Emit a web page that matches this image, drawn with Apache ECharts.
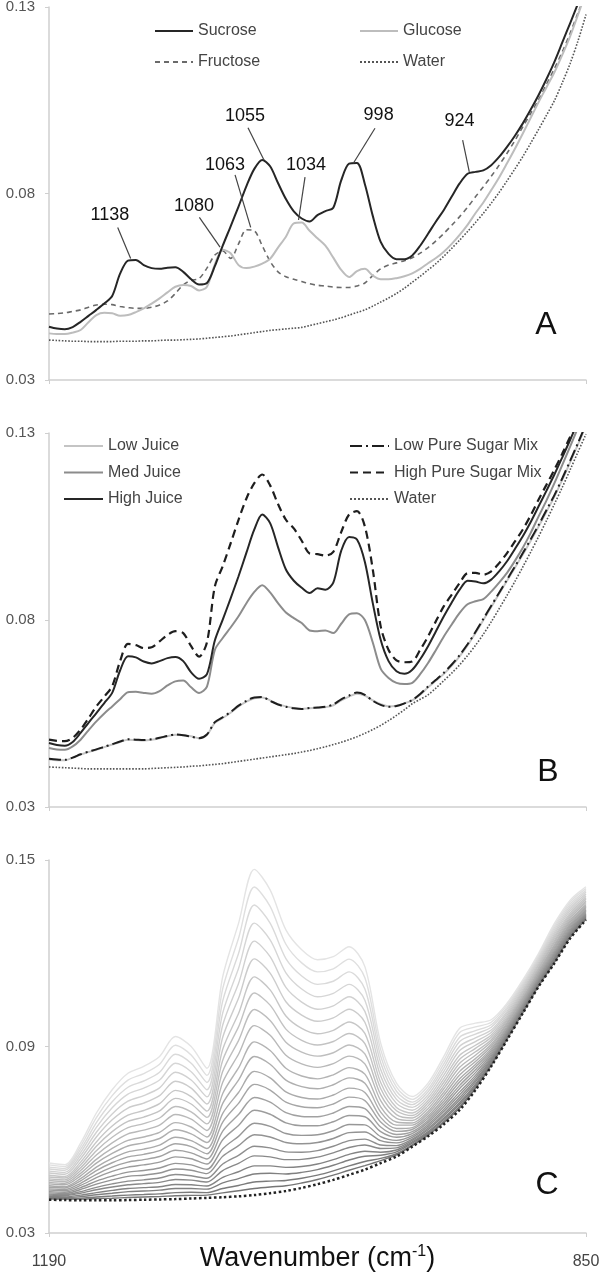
<!DOCTYPE html>
<html><head><meta charset="utf-8">
<script src="https://cdn.jsdelivr.net/npm/echarts@6/dist/echarts.min.js"></script>
<style>html,body{margin:0;padding:0;background:#fff}#c{width:600px;height:1274px}</style>
</head><body><div id="c"></div>
<script>
// ---------- DATA ----------
const wavenumbersAB = [1190,1185,1180,1175,1170,1165,1160,1155,1150,1145,1140,1135,1130,1125,1120,1115,1110,1105,1100,1095,1090,1085,1080,1075,1070,1065,1060,1055,1050,1045,1040,1035,1030,1025,1020,1015,1010,1005,1000,995,990,985,980,975,970,965,960,955,950,945,940,935,930,925,920,915,910,905,900,895,890,885,880,875,870,865,860,855,850];
const wavenumbersC = [1190,1180,1170,1160,1150,1140,1130,1120,1110,1100,1090,1080,1070,1060,1050,1040,1030,1020,1010,1000,990,980,970,960,950,940,930,920,910,900,890,880,870,860,850];
const xTickLabels = [1190, 850];
const yTicksAB = [0.03, 0.08, 0.13];
const yTicksC = [0.03, 0.09, 0.15];

// Panel A
const sucroseA = [0.0443,0.0438,0.0436,0.0442,0.0456,0.0472,0.0488,0.0505,0.0525,0.0585,0.0620,0.0622,0.0608,0.0600,0.0598,0.0601,0.0602,0.0590,0.0570,0.0556,0.0560,0.0605,0.0660,0.0712,0.0765,0.0820,0.0866,0.0890,0.0873,0.0828,0.0785,0.0752,0.0733,0.0725,0.0742,0.0753,0.0762,0.0835,0.0880,0.0882,0.0825,0.0740,0.0670,0.0638,0.0624,0.0624,0.0634,0.0660,0.0692,0.0725,0.0756,0.0792,0.0827,0.0853,0.0858,0.0862,0.0876,0.0898,0.0925,0.0955,0.0988,0.1025,0.1064,0.1107,0.1153,0.1205,0.1257,0.1310,0.1365];
const glucoseA = [0.0425,0.0423,0.0423,0.0427,0.0434,0.0455,0.0474,0.0480,0.0479,0.0472,0.0474,0.0482,0.0492,0.0505,0.0519,0.0535,0.0550,0.0555,0.0552,0.0540,0.0550,0.0610,0.0649,0.0640,0.0608,0.0600,0.0604,0.0612,0.0625,0.0655,0.0684,0.0720,0.0722,0.0700,0.0680,0.0660,0.0628,0.0595,0.0576,0.0592,0.0598,0.0580,0.0570,0.0570,0.0573,0.0578,0.0586,0.0598,0.0613,0.0627,0.0644,0.0665,0.0689,0.0716,0.0747,0.0776,0.0809,0.0843,0.0881,0.0920,0.0961,0.1003,0.1045,0.1085,0.1125,0.1172,0.1222,0.1280,0.1340];
const fructoseA = [0.0477,0.0478,0.0480,0.0484,0.0488,0.0495,0.0501,0.0503,0.0502,0.0497,0.0494,0.0492,0.0492,0.0495,0.0501,0.0512,0.0532,0.0555,0.0567,0.0572,0.0600,0.0635,0.0646,0.0626,0.0665,0.0703,0.0700,0.0660,0.0618,0.0590,0.0577,0.0570,0.0564,0.0558,0.0554,0.0552,0.0549,0.0548,0.0548,0.0552,0.0560,0.0580,0.0598,0.0608,0.0614,0.0620,0.0628,0.0640,0.0655,0.0673,0.0693,0.0715,0.0738,0.0763,0.0791,0.0818,0.0846,0.0876,0.0908,0.0942,0.0979,0.1015,0.1052,0.1093,0.1135,0.1180,0.1230,0.1285,0.1340];
const waterA = [0.0407,0.0406,0.0405,0.0404,0.0404,0.0403,0.0403,0.0403,0.0403,0.0404,0.0404,0.0404,0.0405,0.0405,0.0406,0.0407,0.0407,0.0408,0.0409,0.0410,0.0412,0.0414,0.0416,0.0418,0.0421,0.0424,0.0427,0.0430,0.0433,0.0435,0.0437,0.0439,0.0441,0.0446,0.0451,0.0456,0.0461,0.0467,0.0474,0.0481,0.0488,0.0498,0.0509,0.0520,0.0532,0.0546,0.0562,0.0578,0.0595,0.0612,0.0632,0.0653,0.0675,0.0698,0.0722,0.0747,0.0774,0.0803,0.0834,0.0866,0.0899,0.0935,0.0972,0.1010,0.1049,0.1097,0.1149,0.1210,0.1280];

// Peak annotations (panel A)
const peakLabels = ['1138','1080','1063','1055','1034','998','924'];
const peakWavenumbers = [1138.3,1081.7,1062.3,1053.9,1032.0,997.3,923.9];
const peakValues = [0.0626,0.0656,0.0709,0.0890,0.0729,0.0881,0.0858];

// Panel B
const lowJuiceB = [0.0427,0.0425,0.0425,0.0432,0.0440,0.0447,0.0453,0.0460,0.0467,0.0474,0.0480,0.0479,0.0478,0.0480,0.0484,0.0489,0.0493,0.0492,0.0489,0.0484,0.0493,0.0525,0.0538,0.0552,0.0569,0.0582,0.0591,0.0593,0.0585,0.0575,0.0569,0.0565,0.0562,0.0564,0.0565,0.0567,0.0572,0.0585,0.0595,0.0603,0.0598,0.0585,0.0575,0.0569,0.0571,0.0577,0.0585,0.0600,0.0620,0.0638,0.0656,0.0678,0.0703,0.0732,0.0765,0.0800,0.0835,0.0870,0.0905,0.0940,0.0975,0.1012,0.1050,0.1090,0.1130,0.1175,0.1222,0.1270,0.1320];
const medJuiceB = [0.0458,0.0454,0.0453,0.0462,0.0480,0.0505,0.0529,0.0550,0.0569,0.0588,0.0607,0.0608,0.0605,0.0603,0.0610,0.0625,0.0636,0.0638,0.0620,0.0605,0.0622,0.0720,0.0752,0.0780,0.0810,0.0845,0.0875,0.0893,0.0874,0.0845,0.0820,0.0805,0.0792,0.0772,0.0770,0.0772,0.0765,0.0790,0.0815,0.0818,0.0800,0.0740,0.0670,0.0645,0.0632,0.0629,0.0632,0.0655,0.0685,0.0720,0.0756,0.0788,0.0819,0.0842,0.0850,0.0856,0.0876,0.0900,0.0926,0.0958,0.0993,0.1033,0.1077,0.1120,0.1166,0.1215,0.1264,0.1315,0.1365];
const highJuiceB = [0.0471,0.0466,0.0464,0.0474,0.0498,0.0525,0.0551,0.0578,0.0605,0.0665,0.0703,0.0700,0.0689,0.0684,0.0690,0.0698,0.0701,0.0690,0.0660,0.0643,0.0655,0.0745,0.0801,0.0858,0.0917,0.0980,0.1042,0.1082,0.1059,0.0995,0.0935,0.0905,0.0886,0.0872,0.0885,0.0881,0.0900,0.0985,0.1022,0.1015,0.0955,0.0845,0.0747,0.0690,0.0663,0.0656,0.0667,0.0695,0.0730,0.0770,0.0810,0.0847,0.0881,0.0905,0.0903,0.0898,0.0908,0.0930,0.0957,0.0990,0.1024,0.1062,0.1104,0.1146,0.1189,0.1235,0.1282,0.1330,0.1375];
const lowPureSugarB = [0.0429,0.0427,0.0426,0.0432,0.0441,0.0448,0.0454,0.0461,0.0468,0.0475,0.0481,0.0480,0.0479,0.0481,0.0485,0.0490,0.0494,0.0492,0.0488,0.0484,0.0494,0.0527,0.0540,0.0554,0.0571,0.0584,0.0593,0.0594,0.0584,0.0574,0.0568,0.0564,0.0562,0.0565,0.0566,0.0568,0.0574,0.0588,0.0598,0.0606,0.0600,0.0584,0.0573,0.0568,0.0570,0.0577,0.0586,0.0602,0.0622,0.0640,0.0659,0.0681,0.0706,0.0735,0.0768,0.0803,0.0838,0.0873,0.0908,0.0943,0.0979,0.1016,0.1054,0.1094,0.1134,0.1179,0.1226,0.1274,0.1324];
const highPureSugarB = [0.0480,0.0477,0.0476,0.0485,0.0507,0.0537,0.0569,0.0595,0.0623,0.0690,0.0736,0.0733,0.0725,0.0727,0.0743,0.0760,0.0770,0.0765,0.0730,0.0702,0.0740,0.0890,0.0944,0.1005,0.1068,0.1125,0.1166,0.1189,0.1160,0.1110,0.1068,0.1045,0.1012,0.0978,0.0976,0.0972,0.0982,0.1035,0.1082,0.1091,0.1050,0.0935,0.0783,0.0720,0.0692,0.0687,0.0689,0.0720,0.0756,0.0797,0.0837,0.0868,0.0899,0.0925,0.0926,0.0921,0.0930,0.0952,0.0979,0.1010,0.1042,0.1080,0.1122,0.1162,0.1202,0.1245,0.1290,0.1330,0.1370];
const waterB = [0.0407,0.0406,0.0405,0.0404,0.0403,0.0402,0.0402,0.0402,0.0402,0.0402,0.0402,0.0402,0.0402,0.0403,0.0404,0.0405,0.0406,0.0407,0.0409,0.0410,0.0412,0.0414,0.0416,0.0419,0.0422,0.0425,0.0428,0.0431,0.0434,0.0437,0.0440,0.0443,0.0447,0.0451,0.0456,0.0461,0.0467,0.0473,0.0480,0.0488,0.0497,0.0507,0.0518,0.0531,0.0545,0.0560,0.0576,0.0588,0.0600,0.0618,0.0638,0.0658,0.0680,0.0705,0.0732,0.0762,0.0795,0.0830,0.0866,0.0903,0.0942,0.0982,0.1023,0.1066,0.1110,0.1155,0.1202,0.1250,0.1297];

// Panel C (representative spectra read across the band, lowest to highest)
const waterC = [0.0407,0.0406,0.0405,0.0405,0.0405,0.0406,0.0407,0.0408,0.0409,0.0411,0.0413,0.0415,0.0418,0.0422,0.0428,0.0435,0.0445,0.0457,0.0471,0.0487,0.0504,0.0525,0.0546,0.0578,0.0611,0.0650,0.0696,0.0760,0.0836,0.0921,0.1007,0.1093,0.1168,0.1248,0.1307];
const spectrumC00 = [0.0410,0.0409,0.0409,0.0411,0.0412,0.0414,0.0416,0.0417,0.0420,0.0421,0.0422,0.0429,0.0436,0.0443,0.0448,0.0452,0.0461,0.0472,0.0486,0.0502,0.0517,0.0533,0.0551,0.0581,0.0615,0.0655,0.0702,0.0765,0.0839,0.0924,0.1009,0.1095,0.1171,0.1251,0.1309];
const spectrumC01 = [0.0412,0.0411,0.0412,0.0416,0.0419,0.0422,0.0424,0.0426,0.0430,0.0431,0.0430,0.0443,0.0453,0.0464,0.0467,0.0469,0.0476,0.0486,0.0500,0.0516,0.0530,0.0540,0.0555,0.0584,0.0618,0.0659,0.0707,0.0769,0.0842,0.0926,0.1011,0.1097,0.1173,0.1253,0.1311];
const spectrumC01b = [0.0415,0.0414,0.0417,0.0423,0.0428,0.0433,0.0435,0.0438,0.0443,0.0443,0.0441,0.0461,0.0475,0.0490,0.0492,0.0490,0.0495,0.0504,0.0518,0.0535,0.0547,0.0550,0.0561,0.0589,0.0622,0.0665,0.0714,0.0774,0.0846,0.0929,0.1014,0.1100,0.1177,0.1256,0.1314];
const spectrumC02 = [0.0418,0.0416,0.0422,0.0430,0.0437,0.0443,0.0446,0.0449,0.0456,0.0455,0.0451,0.0479,0.0497,0.0516,0.0516,0.0511,0.0514,0.0522,0.0536,0.0553,0.0563,0.0560,0.0567,0.0593,0.0626,0.0670,0.0720,0.0779,0.0850,0.0932,0.1017,0.1103,0.1180,0.1259,0.1317];
const spectrumC02b = [0.0422,0.0420,0.0428,0.0439,0.0448,0.0455,0.0459,0.0463,0.0472,0.0470,0.0464,0.0501,0.0524,0.0548,0.0545,0.0536,0.0537,0.0544,0.0558,0.0575,0.0583,0.0572,0.0574,0.0598,0.0632,0.0677,0.0728,0.0786,0.0855,0.0936,0.1020,0.1106,0.1184,0.1263,0.1320];
const spectrumC03 = [0.0425,0.0423,0.0433,0.0447,0.0458,0.0467,0.0471,0.0477,0.0488,0.0484,0.0476,0.0522,0.0550,0.0579,0.0574,0.0561,0.0560,0.0565,0.0579,0.0597,0.0602,0.0583,0.0581,0.0602,0.0637,0.0683,0.0736,0.0792,0.0859,0.0939,0.1023,0.1109,0.1187,0.1267,0.1323];
const spectrumC03b = [0.0429,0.0427,0.0440,0.0457,0.0471,0.0482,0.0486,0.0493,0.0506,0.0502,0.0491,0.0547,0.0581,0.0616,0.0609,0.0591,0.0587,0.0591,0.0604,0.0623,0.0625,0.0597,0.0590,0.0608,0.0643,0.0691,0.0745,0.0800,0.0864,0.0943,0.1027,0.1113,0.1192,0.1271,0.1327];
const spectrumC04 = [0.0433,0.0431,0.0446,0.0467,0.0483,0.0496,0.0501,0.0509,0.0524,0.0519,0.0505,0.0571,0.0611,0.0653,0.0643,0.0620,0.0614,0.0616,0.0629,0.0649,0.0648,0.0610,0.0598,0.0613,0.0649,0.0698,0.0754,0.0807,0.0869,0.0947,0.1031,0.1117,0.1196,0.1275,0.1331];
const spectrumC04b = [0.0438,0.0436,0.0453,0.0478,0.0498,0.0512,0.0519,0.0528,0.0545,0.0539,0.0522,0.0600,0.0646,0.0695,0.0682,0.0654,0.0645,0.0645,0.0658,0.0678,0.0674,0.0626,0.0608,0.0620,0.0656,0.0707,0.0765,0.0816,0.0875,0.0952,0.1035,0.1121,0.1201,0.1280,0.1335];
const spectrumC05 = [0.0442,0.0440,0.0460,0.0489,0.0512,0.0528,0.0536,0.0546,0.0566,0.0558,0.0538,0.0628,0.0681,0.0736,0.0721,0.0687,0.0675,0.0674,0.0686,0.0707,0.0700,0.0641,0.0617,0.0626,0.0662,0.0715,0.0775,0.0825,0.0881,0.0956,0.1039,0.1125,0.1206,0.1285,0.1339];
const spectrumC05b = [0.0447,0.0445,0.0468,0.0501,0.0526,0.0545,0.0553,0.0565,0.0587,0.0578,0.0555,0.0657,0.0717,0.0778,0.0760,0.0721,0.0706,0.0703,0.0715,0.0737,0.0726,0.0657,0.0627,0.0633,0.0669,0.0724,0.0786,0.0834,0.0887,0.0961,0.1044,0.1130,0.1212,0.1290,0.1344];
const spectrumC06 = [0.0452,0.0449,0.0475,0.0512,0.0540,0.0561,0.0570,0.0583,0.0608,0.0597,0.0572,0.0685,0.0752,0.0820,0.0799,0.0754,0.0736,0.0731,0.0744,0.0766,0.0752,0.0672,0.0636,0.0639,0.0676,0.0733,0.0796,0.0842,0.0893,0.0966,0.1048,0.1134,0.1217,0.1295,0.1348];
const spectrumC06b = [0.0458,0.0455,0.0484,0.0525,0.0556,0.0580,0.0590,0.0604,0.0632,0.0619,0.0591,0.0717,0.0792,0.0868,0.0843,0.0792,0.0771,0.0764,0.0777,0.0799,0.0782,0.0689,0.0647,0.0647,0.0684,0.0743,0.0808,0.0852,0.0900,0.0972,0.1053,0.1139,0.1223,0.1301,0.1353];
const spectrumC07 = [0.0463,0.0460,0.0492,0.0537,0.0572,0.0598,0.0609,0.0624,0.0655,0.0641,0.0609,0.0749,0.0831,0.0915,0.0887,0.0830,0.0805,0.0796,0.0809,0.0832,0.0811,0.0706,0.0657,0.0654,0.0691,0.0753,0.0820,0.0861,0.0907,0.0977,0.1057,0.1143,0.1228,0.1306,0.1357];
const spectrumC07b = [0.0469,0.0466,0.0501,0.0551,0.0590,0.0619,0.0631,0.0647,0.0681,0.0666,0.0630,0.0785,0.0875,0.0967,0.0936,0.0872,0.0844,0.0833,0.0845,0.0869,0.0844,0.0726,0.0669,0.0662,0.0700,0.0764,0.0833,0.0872,0.0915,0.0983,0.1063,0.1149,0.1235,0.1312,0.1363];
const spectrumC08 = [0.0474,0.0471,0.0510,0.0565,0.0608,0.0639,0.0652,0.0670,0.0707,0.0690,0.0651,0.0820,0.0919,0.1019,0.0984,0.0914,0.0882,0.0869,0.0880,0.0905,0.0876,0.0745,0.0681,0.0670,0.0709,0.0774,0.0846,0.0883,0.0922,0.0988,0.1068,0.1154,0.1241,0.1318,0.1368];
const spectrumC08b = [0.0480,0.0477,0.0519,0.0579,0.0626,0.0659,0.0673,0.0693,0.0733,0.0715,0.0672,0.0856,0.0963,0.1072,0.1033,0.0956,0.0920,0.0905,0.0916,0.0942,0.0909,0.0765,0.0693,0.0678,0.0718,0.0785,0.0859,0.0894,0.0930,0.0994,0.1074,0.1160,0.1248,0.1324,0.1374];
const spectrumC09 = [0.0486,0.0482,0.0528,0.0593,0.0644,0.0679,0.0694,0.0716,0.0759,0.0739,0.0692,0.0891,0.1006,0.1124,0.1082,0.0998,0.0958,0.0941,0.0952,0.0979,0.0942,0.0784,0.0704,0.0686,0.0726,0.0796,0.0872,0.0904,0.0937,0.1000,0.1079,0.1165,0.1254,0.1330,0.1379];
const spectrumC09b = [0.0493,0.0489,0.0539,0.0609,0.0664,0.0702,0.0718,0.0742,0.0788,0.0766,0.0715,0.0930,0.1055,0.1182,0.1136,0.1044,0.1001,0.0981,0.0992,0.1020,0.0978,0.0805,0.0717,0.0695,0.0735,0.0808,0.0887,0.0916,0.0945,0.1007,0.1085,0.1171,0.1261,0.1337,0.1385];
const spectrumC10 = [0.0499,0.0495,0.0549,0.0624,0.0683,0.0724,0.0742,0.0767,0.0817,0.0792,0.0738,0.0969,0.1103,0.1239,0.1189,0.1090,0.1043,0.1020,0.1031,0.1060,0.1013,0.0826,0.0730,0.0704,0.0744,0.0820,0.0901,0.0928,0.0953,0.1013,0.1091,0.1177,0.1268,0.1344,0.1391];
const spectrumC10b = [0.0506,0.0502,0.0559,0.0640,0.0703,0.0747,0.0766,0.0792,0.0846,0.0819,0.0761,0.1008,0.1151,0.1297,0.1243,0.1137,0.1085,0.1060,0.1071,0.1100,0.1049,0.0848,0.0743,0.0713,0.0754,0.0832,0.0916,0.0940,0.0962,0.1020,0.1097,0.1183,0.1275,0.1351,0.1397];
const spectrumC11 = [0.0512,0.0508,0.0569,0.0655,0.0722,0.0769,0.0789,0.0817,0.0875,0.0846,0.0784,0.1047,0.1199,0.1355,0.1297,0.1183,0.1127,0.1100,0.1110,0.1140,0.1085,0.0869,0.0756,0.0721,0.0763,0.0844,0.0930,0.0951,0.0970,0.1026,0.1102,0.1188,0.1282,0.1358,0.1402];
const spectrumC11b = [0.0519,0.0514,0.0579,0.0671,0.0742,0.0792,0.0813,0.0843,0.0904,0.0873,0.0807,0.1086,0.1248,0.1413,0.1351,0.1229,0.1169,0.1140,0.1150,0.1181,0.1121,0.0890,0.0769,0.0730,0.0773,0.0856,0.0945,0.0963,0.0978,0.1033,0.1108,0.1194,0.1289,0.1365,0.1408];
const spectrumC12 = [0.0525,0.0520,0.0589,0.0686,0.0761,0.0814,0.0836,0.0868,0.0932,0.0900,0.0830,0.1125,0.1296,0.1470,0.1404,0.1275,0.1211,0.1179,0.1189,0.1221,0.1157,0.0911,0.0782,0.0739,0.0782,0.0868,0.0959,0.0975,0.0986,0.1039,0.1114,0.1200,0.1296,0.1371,0.1414];

// ---------- LAYOUT / STYLE ----------
const FONT = '"Liberation Sans", Arial, Helvetica, sans-serif';
const annotationLayout = [
  {labelWn:1151.4, labelVal:0.0742, fromWn:1146.5, fromVal:0.0709},
  {labelWn:1098.2, labelVal:0.0766, fromWn:1094.8, fromVal:0.0736},
  {labelWn:1078.6, labelVal:0.0875, fromWn:1072.2, fromVal:0.0850},
  {labelWn:1065.9, labelVal:0.1008, fromWn:1064.0, fromVal:0.0976},
  {labelWn:1027.3, labelVal:0.0875, fromWn:1027.9, fromVal:0.0844},
  {labelWn:981.3,  labelVal:0.1010, fromWn:983.6,  fromVal:0.0975},
  {labelWn:930.1,  labelVal:0.0993, fromWn:928.1,  fromVal:0.0943}
];

function pairs(wns, vals){ return wns.map((w,i)=>[w, vals[i]]); }
function lineSeries(name, wns, vals, idx, lineStyle, extra){
  return Object.assign({
    type:'line', name:name, xAxisIndex:idx, yAxisIndex:idx,
    data:pairs(wns, vals), symbol:'none', smooth:0.3, silent:true,
    lineStyle:lineStyle, itemStyle:{color:lineStyle.color}, emphasis:{disabled:true}
  }, extra||{});
}

const axisGray = '#cfcfcf';
function xAx(idx, showLabels){
  const o = {
    type:'value', gridIndex:idx, min:850, max:1190, interval:340, inverse:true,
    axisLine:{show:true, lineStyle:{color:axisGray, width:1.5}},
    axisTick:{show:true, length:4, lineStyle:{color:axisGray}},
    splitLine:{show:false},
    axisLabel:{show:showLabels, fontSize:16, color:'#444', margin:21, fontFamily:FONT,
      showMinLabel:true, showMaxLabel:true,
      formatter:(v)=> xTickLabels.indexOf(Math.round(v))>=0 ? String(Math.round(v)) : ''}
  };
  if (showLabels){
    o.name = '{a|Wavenumber (cm}{s|-1}{a|)}';
    o.nameLocation = 'middle';
    o.nameGap = 11;
    o.nameMoveOverlap = false;
    o.nameTextStyle = {rich:{
      a:{fontSize:27, color:'#111', fontFamily:FONT, lineHeight:30},
      s:{fontSize:16, color:'#111', fontFamily:FONT, verticalAlign:'top', lineHeight:30}
    }};
  }
  return o;
}
function yAx(idx, ticks){
  return {
    type:'value', gridIndex:idx, min:ticks[0], max:ticks[2], interval:ticks[1]-ticks[0],
    axisLine:{show:true, lineStyle:{color:axisGray, width:1.5}},
    axisTick:{show:true, length:4, lineStyle:{color:axisGray}},
    splitLine:{show:false},
    axisLabel:{fontSize:15, color:'#555', margin:14, fontFamily:FONT,
      formatter:(v)=>v.toFixed(2)}
  };
}

const series = [];
// Panel A
series.push(lineSeries('Water', wavenumbersAB, waterA, 0, {color:'#555', width:1.6, type:'dotted'}));
series.push(lineSeries('Fructose', wavenumbersAB, fructoseA, 0, {color:'#6a6a6a', width:1.6, type:[5,4]}));
series.push(lineSeries('Glucose', wavenumbersAB, glucoseA, 0, {color:'#bdbdbd', width:2}));
series.push(lineSeries('Sucrose', wavenumbersAB, sucroseA, 0, {color:'#262626', width:2}, {
  markLine:{
    silent:true, symbol:['none','none'], animation:false,
    label:{show:false},
    lineStyle:{color:'#444', width:1.2, type:'solid'},
    data: peakLabels.map((t,i)=>[
      {coord:[annotationLayout[i].fromWn, annotationLayout[i].fromVal]},
      {coord:[peakWavenumbers[i], peakValues[i]]}
    ])
  },
  markPoint:{
    silent:true, animation:false,
    data: peakLabels.map((t,i)=>({
      coord:[annotationLayout[i].labelWn, annotationLayout[i].labelVal],
      value:t, symbol:'circle', symbolSize:1,
      itemStyle:{color:'rgba(0,0,0,0)'},
      label:{show:true, position:'inside', formatter:t, color:'#111', fontSize:18, fontFamily:FONT}
    }))
  }
}));
// Panel B
series.push(lineSeries('Water', wavenumbersAB, waterB, 1, {color:'#555', width:1.6, type:'dotted'}));
series.push(lineSeries('Low Juice', wavenumbersAB, lowJuiceB, 1, {color:'#c4c4c4', width:2}));
series.push(lineSeries('Low Pure Sugar Mix', wavenumbersAB, lowPureSugarB, 1, {color:'#1e1e1e', width:2, type:[12,4,2,4]}));
series.push(lineSeries('Med Juice', wavenumbersAB, medJuiceB, 1, {color:'#8c8c8c', width:2}));
series.push(lineSeries('High Juice', wavenumbersAB, highJuiceB, 1, {color:'#262626', width:2}));
series.push(lineSeries('High Pure Sugar Mix', wavenumbersAB, highPureSugarB, 1, {color:'#1e1e1e', width:2.2, type:[8,5]}));
// Panel C (drawn from the lightest/highest to the darkest/lowest)
const cSpectra = [spectrumC12, spectrumC11b, spectrumC11, spectrumC10b, spectrumC10, spectrumC09b, spectrumC09, spectrumC08b, spectrumC08, spectrumC07b, spectrumC07, spectrumC06b, spectrumC06, spectrumC05b, spectrumC05, spectrumC04b, spectrumC04, spectrumC03b, spectrumC03, spectrumC02b, spectrumC02, spectrumC01b, spectrumC01, spectrumC00];
cSpectra.forEach((arr,i)=>{
  const t = i/(cSpectra.length-1);
  const g = Math.round(228 - t*110);
  series.push(lineSeries('C spectrum ' + (i+1), wavenumbersC, arr, 2, {color:'rgb('+g+','+g+','+g+')', width:1.4}));
});
series.push(lineSeries('C water', wavenumbersC, waterC, 2, {color:'#222', width:2.5, type:'dotted'}));

const legendText = {fontSize:16, color:'#444', fontFamily:FONT, lineHeight:16};
const legendBase = {orient:'vertical', itemHeight:14, selectedMode:false, padding:0, textStyle:legendText, itemStyle:{opacity:0}};
const option = {
  animation:false,
  backgroundColor:'#fff',
  grid:[
    {left:49, right:14, top:7, height:373, outerBoundsMode:'none', containLabel:false},
    {left:49, right:14, top:433, height:374, outerBoundsMode:'none', containLabel:false},
    {left:49, right:14, top:860, height:373, outerBoundsMode:'none', containLabel:false}
  ],
  xAxis:[xAx(0,false), xAx(1,false), xAx(2,true)],
  yAxis:[yAx(0,yTicksAB), yAx(1,yTicksAB), yAx(2,yTicksC)],
  legend:[
    Object.assign({data:['Sucrose','Fructose'], left:154, top:23, itemGap:15, itemWidth:38}, legendBase),
    Object.assign({data:['Glucose','Water'], left:359, top:23, itemGap:15, itemWidth:38}, legendBase),
    Object.assign({data:['Low Juice','Med Juice','High Juice'], left:63, top:438, itemGap:10.5, itemWidth:39}, legendBase),
    Object.assign({data:['Low Pure Sugar Mix','High Pure Sugar Mix','Water'], left:349, top:438, itemGap:10.5, itemWidth:39}, legendBase)
  ],
  graphic:[
    {type:'text', x:546, y:325, silent:true, style:{text:'A', fontSize:32, fill:'#111', align:'center', verticalAlign:'middle', fontFamily:FONT}},
    {type:'text', x:548, y:772, silent:true, style:{text:'B', fontSize:32, fill:'#111', align:'center', verticalAlign:'middle', fontFamily:FONT}},
    {type:'text', x:547, y:1185, silent:true, style:{text:'C', fontSize:32, fill:'#111', align:'center', verticalAlign:'middle', fontFamily:FONT}}
  ],
  series:series
};
const chart = echarts.init(document.getElementById('c'));
chart.setOption(option);
</script>
</body></html>
